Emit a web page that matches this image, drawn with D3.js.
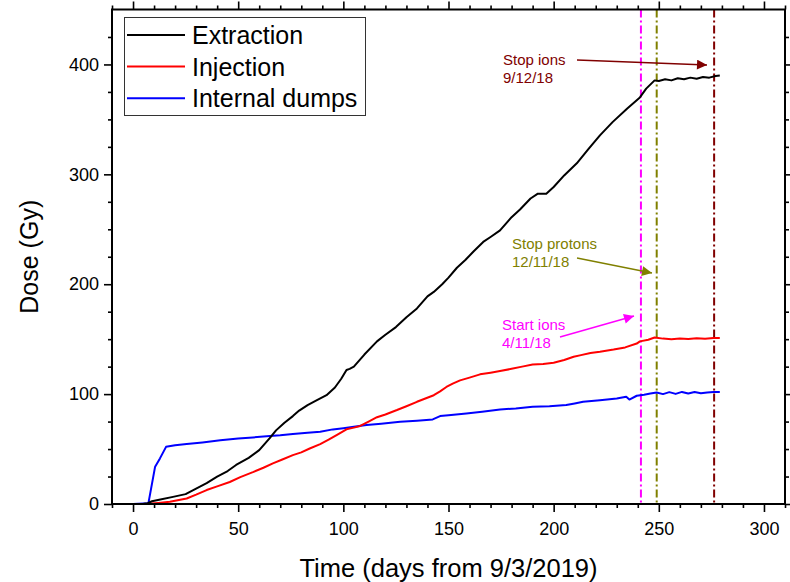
<!DOCTYPE html>
<html>
<head>
<meta charset="utf-8">
<script src="https://cdn.jsdelivr.net/npm/d3@7/dist/d3.min.js"></script>
<style>
  html, body { margin: 0; padding: 0; background: #fff; }
  svg { display: block; font-family: "Liberation Sans", Arial, sans-serif; }
</style>
</head>
<body>
<svg id="chart" width="790" height="582"></svg>
<script>
// Accumulated dose per beam-loss location, days counted from 9/3/2019
const extractionDays = [-8, 0, 5, 7, 9, 13, 19, 25, 30, 35, 40, 45, 49, 55, 60, 65, 68, 72, 76, 79, 83, 87, 92, 96, 99, 101.5, 103, 105, 110, 116, 120, 125, 130, 135, 140, 143, 147, 150, 154, 158, 162, 166.5, 170, 174.5, 180, 184, 189, 192.5, 196.5, 200, 205, 211, 216.5, 222, 228, 235, 241, 244, 248, 250, 253, 256, 259, 262, 265, 268, 271, 274, 277, 279];
const extractionDose = [0, 0, 0.3, 0.8, 2.5, 4, 6.5, 9, 14, 19, 25, 30, 35.5, 42, 49, 60, 67, 74, 80, 85, 90, 94, 99, 106, 114, 122, 123, 125, 136, 148, 154, 161, 170, 178, 189, 193, 200, 206, 215, 222, 230, 238.5, 243, 249, 261, 268, 278, 282.4, 282.4, 288.5, 299, 310, 323, 335.5, 347.5, 360, 370, 378, 385.5, 385, 386.5, 385.5, 387.5, 386.5, 388, 387, 388.5, 388, 389.5, 390];

const injectionDays = [-8, 0, 7, 12, 17.5, 25.5, 30, 35, 40, 46, 51, 57, 62, 66.5, 71, 76, 80, 84, 89, 93, 97, 101.5, 105, 108, 112, 116, 120, 125.5, 130, 135, 139, 143, 146, 149, 152, 155.5, 160, 165, 170, 174.5, 180, 185, 190, 195, 200, 205, 209.5, 213, 217.5, 222, 228.5, 234, 239.5, 241, 245, 248, 252, 256, 260, 264, 268, 272, 276, 279];
const injectionDose = [0, 0, 0.3, 1, 2, 5, 8.5, 12.7, 16, 20, 24.5, 29, 33, 37, 40.5, 44.5, 47, 50.5, 54.5, 58.5, 63, 68, 69.5, 71, 75, 79, 81.5, 85.5, 89, 93, 96, 99, 102.5, 106.5, 109.5, 112.5, 115, 118, 119.5, 121, 123, 125, 127, 127.5, 128.5, 131, 134, 135.5, 137.5, 138.5, 140.5, 142.5, 146, 148, 149.5, 151.5, 150.5, 150, 150.6, 150.2, 150.8, 150.3, 151, 151];

const dumpsDays = [-8, 0, 7.3, 10.5, 12.8, 15.7, 20, 25.5, 33, 41.5, 50, 57, 65, 70, 76, 83, 89, 95, 100, 105, 111, 118, 127, 135, 142.5, 146, 150, 158.5, 166, 174.5, 182, 190, 198, 206, 210, 214, 222, 230, 234.5, 236, 239.5, 243, 246, 249, 252, 255, 258, 261, 264, 267, 270, 273, 276, 279];
const dumpsDose = [0, 0, 0.6, 34, 41.5, 52, 53.5, 54.5, 56, 58, 59.5, 60.6, 61.8, 62.5, 63.6, 64.8, 65.7, 67.9, 69, 70.2, 71.8, 73, 74.8, 75.8, 77, 80, 80.8, 82.4, 84, 86, 87, 88.5, 89, 90, 91.5, 93, 94.5, 96, 97.5, 95, 98.5, 99.5, 100.5, 101.5, 100, 101.8, 100.2, 102, 100.5, 102, 100.8, 101.5, 102, 102];

const seriesNames = ["Extraction", "Injection", "Internal dumps"];
const seriesColors = ["#000000", "#ff0000", "#0000ff"];

// Beam events: day number, label lines
const eventDays = [241.5, 249, 276.3];
const eventLabels = [["Start ions", "4/11/18"], ["Stop protons", "12/11/18"], ["Stop ions", "9/12/18"]];
const eventColors = ["#ff00ff", "#808000", "#800000"];

const xMajorTicks = [0, 50, 100, 150, 200, 250, 300];
const yMajorTicks = [0, 100, 200, 300, 400];

const svg = d3.select("#chart");
const plotLeft = 112, plotRight = 785, plotTop = 9.5, plotBottom = 504;

const x = d3.scaleLinear().domain([-10, 310]).range([plotLeft, plotRight]);
const y = d3.scaleLinear().domain([0, 450]).range([plotBottom, plotTop]);

const xMinor = d3.range(-10, 311, 10).filter(v => v % 50 !== 0);
const yMinor = d3.range(25, 450, 25).filter(v => v % 100 !== 0);

// Axes on all four sides, ticks pointing outward
function styleAxis(g) {
  g.selectAll(".domain").remove();
  g.selectAll(".tick line").attr("stroke", "#000").attr("stroke-width", 1.6);
  g.selectAll(".tick text").attr("fill", "#000").attr("font-size", 18)
    .attr("font-family", "Liberation Sans, Arial, sans-serif");
}

svg.append("g").attr("transform", `translate(0,${plotBottom})`)
  .call(d3.axisBottom(x).tickValues(xMajorTicks).tickSize(8).tickPadding(10).tickFormat(d3.format("d")))
  .call(styleAxis);
svg.append("g").attr("transform", `translate(0,${plotBottom})`)
  .call(d3.axisBottom(x).tickValues(xMinor).tickSize(4).tickFormat(""))
  .call(styleAxis);
svg.append("g").attr("transform", `translate(0,${plotTop})`)
  .call(d3.axisTop(x).tickValues(xMajorTicks).tickSize(8).tickFormat(""))
  .call(styleAxis);
svg.append("g").attr("transform", `translate(0,${plotTop})`)
  .call(d3.axisTop(x).tickValues(xMinor).tickSize(4).tickFormat(""))
  .call(styleAxis);

svg.append("g").attr("transform", `translate(${plotLeft},0)`)
  .call(d3.axisLeft(y).tickValues(yMajorTicks).tickSize(8).tickPadding(5).tickFormat(d3.format("d")))
  .call(styleAxis);
svg.append("g").attr("transform", `translate(${plotLeft},0)`)
  .call(d3.axisLeft(y).tickValues(yMinor).tickSize(4).tickFormat(""))
  .call(styleAxis);
svg.append("g").attr("transform", `translate(${plotRight},0)`)
  .call(d3.axisRight(y).tickValues(yMajorTicks).tickSize(8).tickFormat(""))
  .call(styleAxis);
svg.append("g").attr("transform", `translate(${plotRight},0)`)
  .call(d3.axisRight(y).tickValues(yMinor).tickSize(4).tickFormat(""))
  .call(styleAxis);

// Event markers (dash-dot verticals)
eventDays.forEach((d, i) => {
  svg.append("line")
    .attr("x1", x(d)).attr("x2", x(d))
    .attr("y1", plotTop).attr("y2", plotBottom)
    .attr("stroke", eventColors[i]).attr("stroke-width", 2)
    .attr("stroke-dasharray", "8,3,2,3");
});

// Dose curves
const line = d3.line().x(p => x(p[0])).y(p => y(p[1]));
const series = [
  d3.zip(extractionDays, extractionDose),
  d3.zip(injectionDays, injectionDose),
  d3.zip(dumpsDays, dumpsDose)
];
// dumps first, extraction last on top
[2, 1, 0].forEach(i => {
  svg.append("path").datum(series[i])
    .attr("d", line)
    .attr("fill", "none")
    .attr("stroke", seriesColors[i])
    .attr("stroke-width", 2)
    .attr("stroke-linejoin", "round");
});

// Plot frame
svg.append("rect")
  .attr("x", plotLeft).attr("y", plotTop)
  .attr("width", plotRight - plotLeft).attr("height", plotBottom - plotTop)
  .attr("fill", "none").attr("stroke", "#000").attr("stroke-width", 2);

// Legend
const legend = svg.append("g");
legend.append("rect")
  .attr("x", 124.5).attr("y", 17.5).attr("width", 241).attr("height", 98)
  .attr("fill", "#fff").attr("stroke", "#333").attr("stroke-width", 1);
seriesNames.forEach((name, i) => {
  const ly = 35 + i * 31.6;
  legend.append("line").attr("x1", 127).attr("x2", 185).attr("y1", ly).attr("y2", ly)
    .attr("stroke", seriesColors[i]).attr("stroke-width", 2);
  legend.append("text").attr("x", 192).attr("y", ly + 9)
    .attr("font-size", 25).attr("fill", "#000").text(name);
});

// Event annotations with arrows
const defs = svg.append("defs");
eventColors.forEach((c, i) => {
  defs.append("marker")
    .attr("id", "arrow" + i)
    .attr("viewBox", "0 0 10 10").attr("refX", 10).attr("refY", 5)
    .attr("markerUnits", "userSpaceOnUse")
    .attr("markerWidth", 14).attr("markerHeight", 10)
    .attr("orient", "auto")
    .append("path").attr("d", "M0,0 L10,5 L0,10 Z").attr("fill", c);
});

const annTextPos = [[502, 330], [512, 249], [503, 65]];
const annArrows = [[560, 337, 634, 316], [577, 258, 652, 273], [577, 60, 707, 65]];
eventLabels.forEach((lines, i) => {
  const t = svg.append("text")
    .attr("x", annTextPos[i][0]).attr("y", annTextPos[i][1])
    .attr("font-size", 15).attr("fill", eventColors[i]);
  lines.forEach((s, j) => {
    t.append("tspan").attr("x", annTextPos[i][0]).attr("dy", j === 0 ? 0 : 18).text(s);
  });
  const a = annArrows[i];
  svg.append("line")
    .attr("x1", a[0]).attr("y1", a[1]).attr("x2", a[2]).attr("y2", a[3])
    .attr("stroke", eventColors[i]).attr("stroke-width", 1.5)
    .attr("marker-end", `url(#arrow${i})`);
});

// Axis titles
svg.append("text")
  .attr("x", (plotLeft + plotRight) / 2).attr("y", 577)
  .attr("text-anchor", "middle").attr("font-size", 25.5).attr("fill", "#000")
  .text("Time (days from 9/3/2019)");
svg.append("text")
  .attr("transform", `translate(38,${(plotTop + plotBottom) / 2}) rotate(-90)`)
  .attr("text-anchor", "middle").attr("font-size", 25).attr("fill", "#000")
  .text("Dose (Gy)");
</script>
</body>
</html>
